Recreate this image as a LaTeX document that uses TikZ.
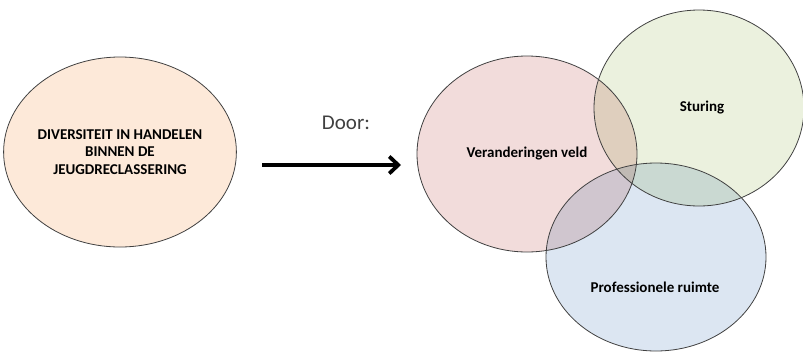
\documentclass[tikz,border=0pt]{standalone}
\usepackage{fontspec}
\setmainfont{Carlito}
\usetikzlibrary{shapes.geometric,arrows.meta}
\definecolor{peach}{HTML}{FDE9D9}
\definecolor{roze}{HTML}{F2DCDB}
\definecolor{groen}{HTML}{EBF1DE}
\definecolor{blauw}{HTML}{DCE6F2}
\begin{document}
\begin{tikzpicture}[x=1pt,y=-1pt,
  bol/.style={ellipse,draw=black!75,line width=.8pt,inner sep=0pt,align=center,
    font=\fontsize{15}{17.6}\selectfont\bfseries},
  pijl/.style={line width=3.8pt,-{Straight Barb[length=9pt,width=17pt]}}]
\useasboundingbox (0,0) rectangle (803,354);
\node[bol,fill=peach,minimum width=220pt,minimum height=190pt] (diversiteit) at (120,152)
  {DIVERSITEIT IN HANDELEN\\BINNEN DE\\JEUGDRECLASSERING};
\node[font=\fontsize{21}{25}\selectfont,text=black!75] (door) at (346,123) {Door:};
\coordinate (start) at (262,165);
\coordinate (eind) at (401,165);
\draw[pijl] (start) -- (eind);
% de drie cirkels, eerst vullen dan randen
\begin{scope}[blend mode=multiply]
\fill[roze] (527,154) ellipse (110 and 98);
\fill[groen] (699,108) ellipse (105 and 98);
\fill[blauw] (656,257) ellipse (110 and 94);
\end{scope}
\node[bol,minimum width=220pt,minimum height=196pt] (veld) at (527,154) {Veranderingen veld};
\node[bol,minimum width=210pt,minimum height=196pt] (sturing) at (699,108) {};
\node[bol,minimum width=220pt,minimum height=188pt] (ruimte) at (656,257) {};
\node[font=\fontsize{15}{17.6}\selectfont\bfseries] (sturingtekst) at (702,108) {Sturing};
\node[font=\fontsize{15}{17.6}\selectfont\bfseries] (ruimtetekst) at (655,287) {Professionele ruimte};
\end{tikzpicture}
\end{document}
